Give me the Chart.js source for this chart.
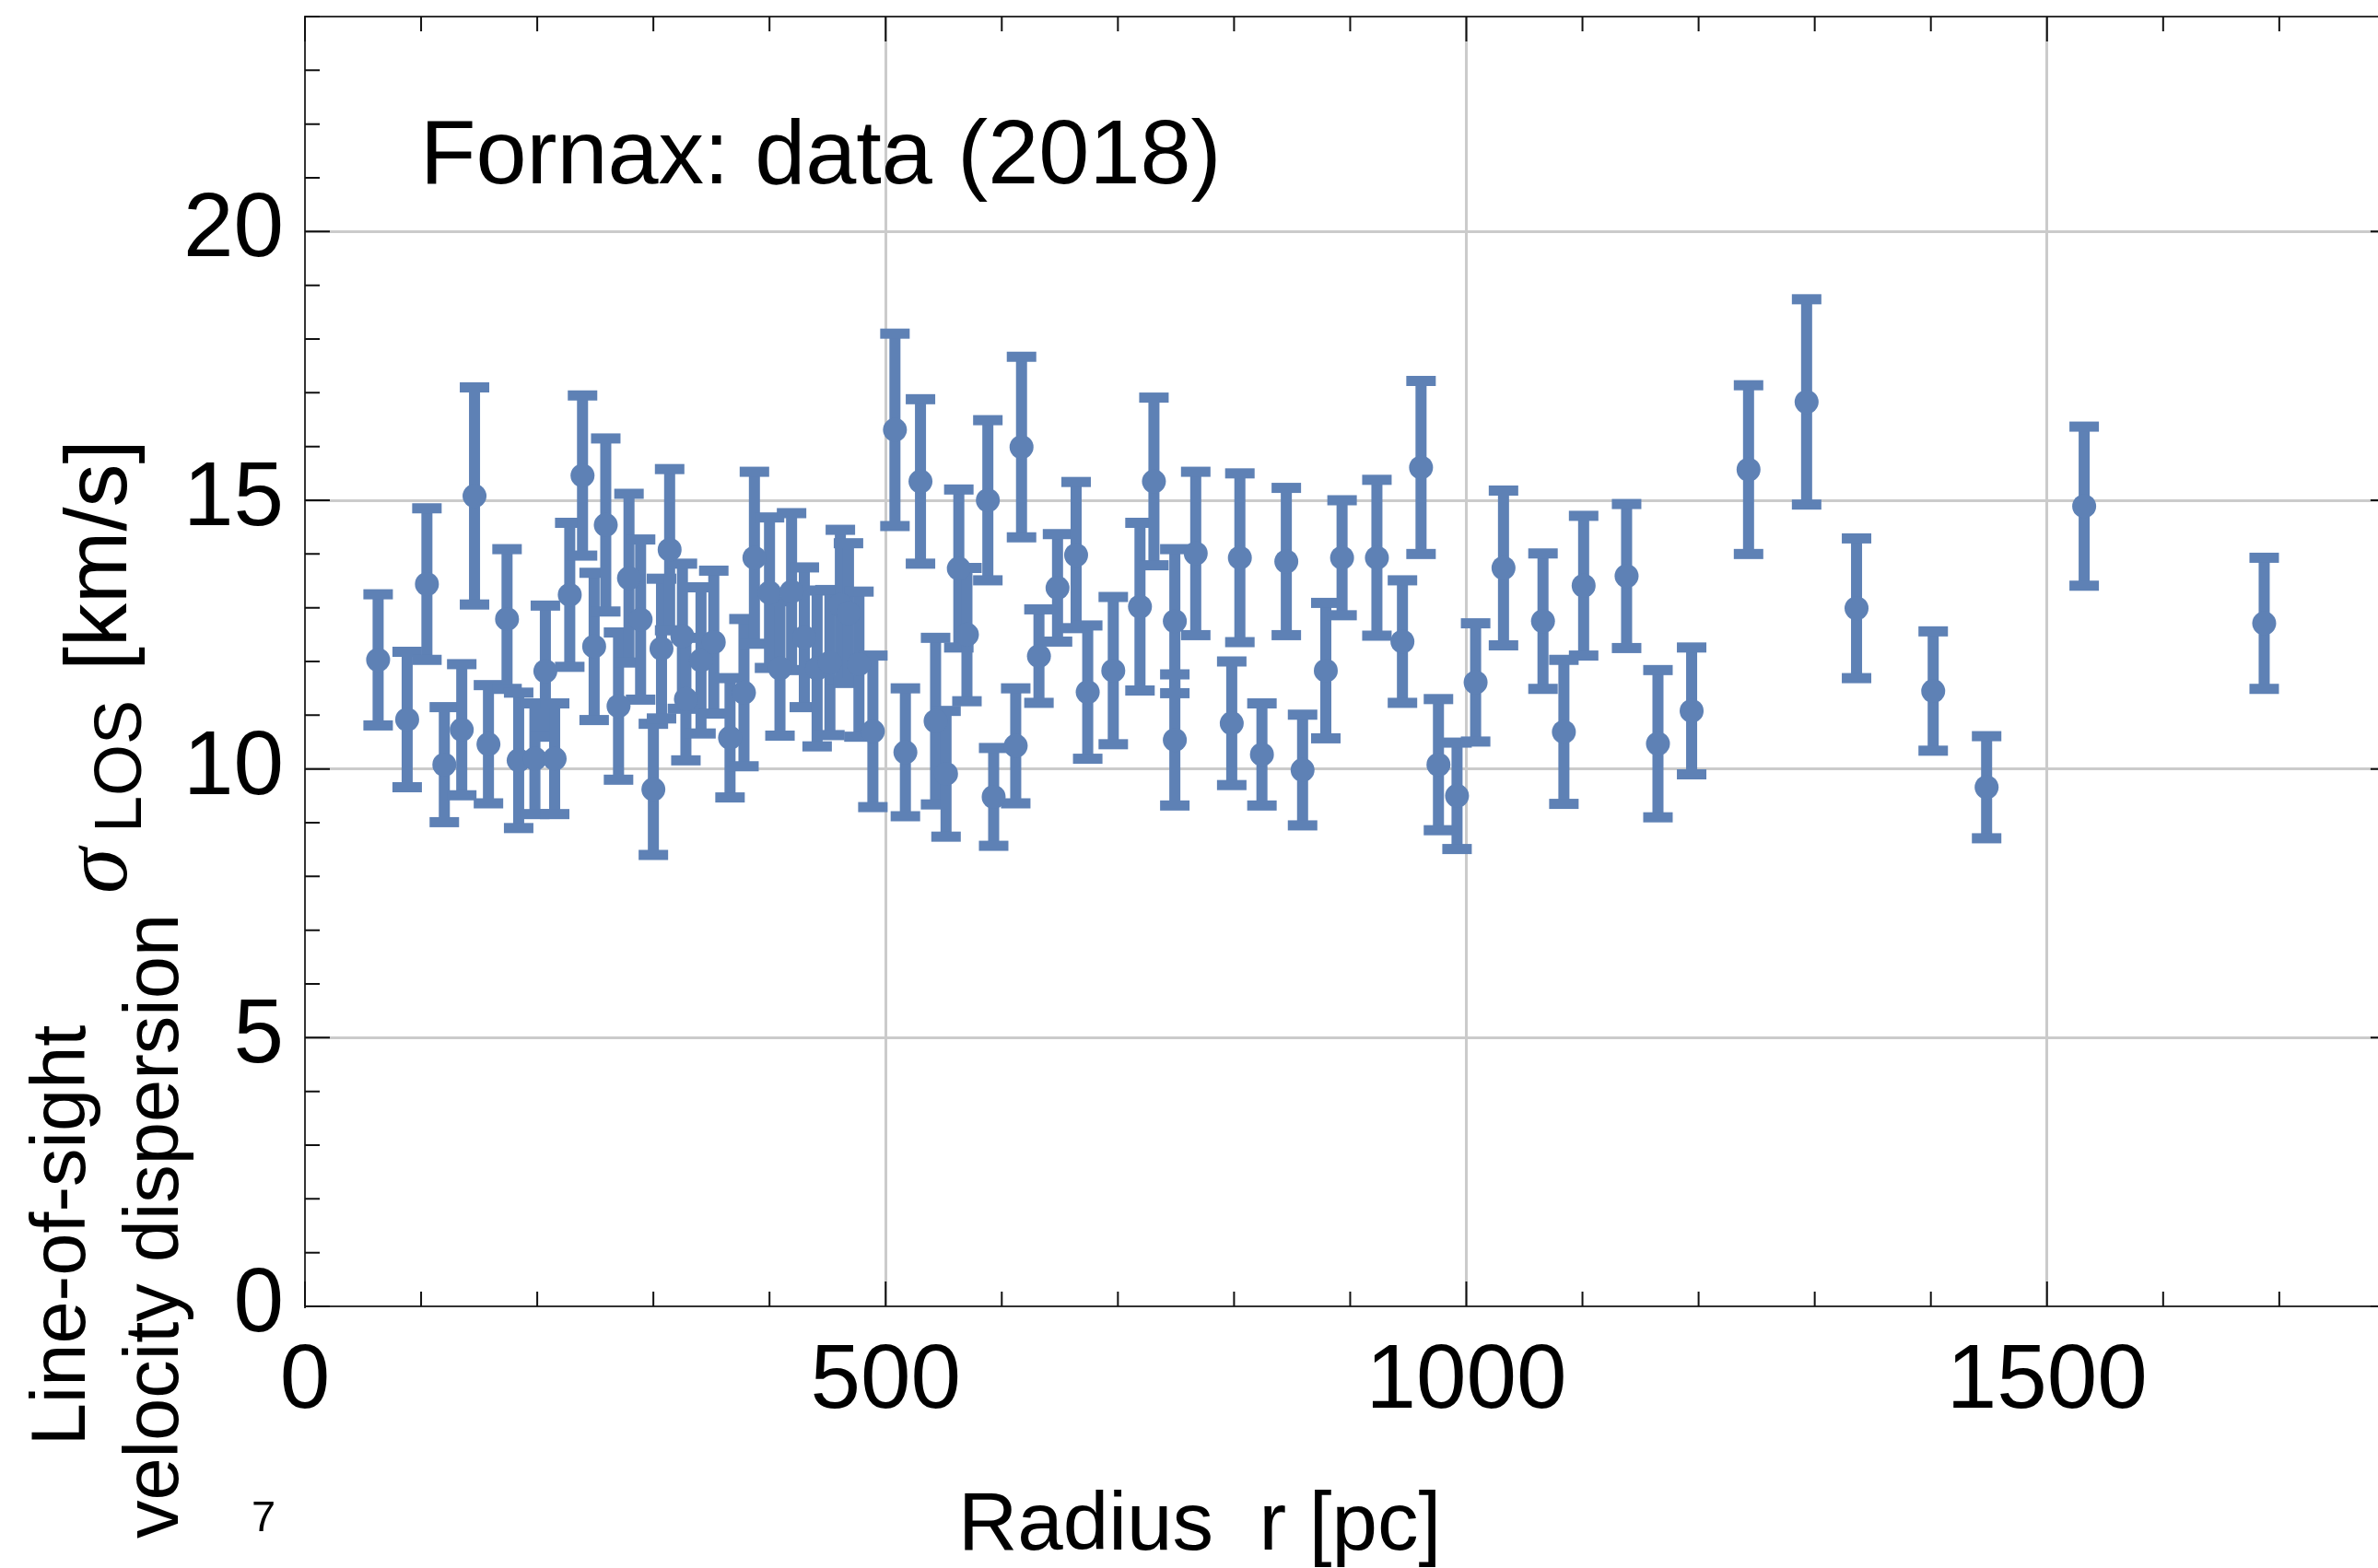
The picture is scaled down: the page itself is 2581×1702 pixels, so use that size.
<!DOCTYPE html>
<html>
<head>
<meta charset="utf-8">
<script src="https://cdn.jsdelivr.net/npm/chart.js@4.4.1/dist/chart.umd.min.js"></script>
<style>
  html, body { margin: 0; padding: 0; background: #fff; overflow: hidden; }
</style>
</head>
<body>
<canvas id="chart_sigma" width="2581" height="1702"></canvas>
<script>
// Fornax line-of-sight velocity dispersion vs. radius
var radius = [63, 88, 105, 120, 135, 146, 158, 174, 184, 198,
              207, 215, 228, 239, 249, 259, 270, 279, 289, 300,
              307, 314, 325, 328, 341, 352, 366, 378, 387, 400,
              409, 419, 430, 441, 452, 461, 468, 477, 489, 508,
              517, 530, 543, 552, 563, 570, 588, 593, 612, 617,
              632, 648, 664, 674, 696, 719, 731, 749, 749, 767,
              798, 805, 824, 845, 859, 879, 893, 923, 945, 961,
              976, 992, 1008, 1032, 1066, 1084, 1101, 1138, 1165, 1194,
              1243, 1293, 1336, 1402, 1448, 1532, 1687]
var sigma = [12.03, 10.92, 13.44, 10.08, 10.73, 15.08, 10.46, 12.79, 10.16, 10.19,
             11.82, 10.19, 13.24, 15.46, 12.28, 14.54, 11.17, 13.55, 12.78, 9.62,
             12.24, 14.08, 12.47, 11.30, 12.02, 12.36, 10.58, 11.42, 13.93, 13.28,
             11.87, 13.30, 12.45, 11.87, 11.98, 13.05, 12.90, 11.95, 10.70, 16.31,
             10.31, 15.35, 10.89, 9.91, 13.73, 12.50, 15.00, 9.48, 10.43, 15.99,
             12.10, 13.37, 13.98, 11.43, 11.83, 13.02, 15.35, 12.75, 10.54, 14.01,
             10.85, 13.93, 10.27, 13.86, 9.98, 11.83, 13.93, 13.93, 12.37, 15.61,
             10.08, 9.50, 11.61, 13.74, 12.75, 10.69, 13.41, 13.59, 10.47, 11.08,
             15.57, 16.83, 12.99, 11.45, 9.66, 14.89, 12.71]
var sigmaErr = [1.22, 1.26, 1.41, 1.07, 1.22, 2.02, 1.10, 1.30, 1.26, 1.03,
                1.22, 1.03, 1.34, 1.49, 1.37, 1.61, 1.37, 1.57, 1.49, 1.22,
                1.30, 1.50, 1.35, 1.14, 1.36, 1.33, 1.11, 1.37, 1.60, 1.40,
                1.25, 1.46, 1.30, 1.45, 1.35, 1.40, 1.30, 1.35, 1.41, 1.79,
                1.19, 1.53, 1.55, 1.17, 1.47, 1.24, 1.49, 0.91, 1.07, 1.68,
                0.87, 1.00, 1.36, 1.24, 1.37, 1.56, 1.56, 1.34, 1.22, 1.52,
                1.15, 1.57, 0.95, 1.37, 1.03, 1.26, 1.07, 1.45, 1.14, 1.61,
                1.22, 0.99, 1.10, 1.44, 1.26, 1.34, 1.30, 1.34, 1.37, 1.18,
                1.57, 1.91, 1.30, 1.11, 0.95, 1.48, 1.22]

var xTickValues = [0, 500, 1000, 1500]
var yTickValues = [0, 5, 10, 15, 20]
var xMinorStep = 100
var yMinorStep = 1
var xVisibleMax = 1785   // right edge of the canvas
var xFrameMax = 1800     // right side of the frame, just past the edge

var blue = 'rgb(94, 129, 181)'
var font = '"Liberation Sans", Arial, sans-serif'

// vertical bars with flat caps, one per point
var errorBars = {
    id: 'errorBars',
    beforeDatasetsDraw: function (chart) {
        var ctx = chart.ctx, xs = chart.scales.x, ys = chart.scales.y
        ctx.save()
        ctx.fillStyle = blue
        for (var i = 0; i < radius.length; i++) {
            var px = xs.getPixelForValue(radius[i])
            var top = ys.getPixelForValue(sigma[i] + sigmaErr[i])
            var bot = ys.getPixelForValue(sigma[i] - sigmaErr[i])
            ctx.fillRect(px - 6, top, 12, bot - top)
            ctx.fillRect(px - 16, top - 5.5, 32, 11)
            ctx.fillRect(px - 16, bot - 5.5, 32, 11)
        }
        ctx.restore()
    }
}

// frame with inward ticks on all four sides, plus the free-standing labels
var frame = {
    id: 'frame',
    afterDraw: function (chart) {
        var ctx = chart.ctx, a = chart.chartArea, xs = chart.scales.x, ys = chart.scales.y
        var right = xs.getPixelForValue(xFrameMax)
        ctx.save()
        ctx.strokeStyle = '#333'
        ctx.lineWidth = 2
        ctx.beginPath()
        ctx.moveTo(a.left, a.top)
        ctx.lineTo(right, a.top)
        ctx.lineTo(right, a.bottom)
        ctx.stroke()

        ctx.strokeStyle = '#111'
        ctx.beginPath()
        for (var v = 0; v <= xFrameMax; v += xMinorStep) {
            var px = xs.getPixelForValue(v)
            var len = v % 500 === 0 ? 27 : 16
            ctx.moveTo(px, a.bottom); ctx.lineTo(px, a.bottom - len)
            ctx.moveTo(px, a.top); ctx.lineTo(px, a.top + len)
        }
        for (var w = 0; w <= ys.max; w += yMinorStep) {
            var py = ys.getPixelForValue(w)
            var l2 = w % 5 === 0 ? 27 : 16
            ctx.moveTo(a.left, py); ctx.lineTo(a.left + l2, py)
            ctx.moveTo(right, py); ctx.lineTo(right - l2, py)
        }
        ctx.stroke()

        ctx.fillStyle = '#000'
        ctx.textBaseline = 'alphabetic'
        ctx.textAlign = 'left'
        ctx.font = '99px ' + font
        ctx.fillText('Fornax: data (2018)', 456, 199)

        ctx.font = '89px ' + font
        ctx.fillText('Radius  r [pc]', 1040, 1682)

        ctx.font = '47px ' + font
        ctx.fillText('7', 273, 1662)

        // rotated y title, three pieces
        ctx.textAlign = 'center'
        ctx.font = '83px ' + font
        ctx.save()
        ctx.translate(92, 1341); ctx.rotate(-Math.PI / 2)
        ctx.fillText('Line-of-sight', 0, 0)
        ctx.restore()
        ctx.save()
        ctx.translate(193, 1331); ctx.rotate(-Math.PI / 2)
        ctx.fillText('velocity dispersion', 0, 0)
        ctx.restore()

        ctx.save()
        ctx.translate(137, 970); ctx.rotate(-Math.PI / 2)
        ctx.textAlign = 'left'
        ctx.font = 'italic 100px "Liberation Serif", serif'
        ctx.fillText('σ', 0, 0)
        ctx.font = '72px ' + font
        ctx.fillText('LOS', 66, 16)
        ctx.font = '94px ' + font
        ctx.fillText('[km/s]', 242, 0)
        ctx.restore()

        ctx.restore()
    }
}

var ctx = document.getElementById('chart_sigma')

var chart_sigma = new Chart(ctx, {
    type: 'scatter',
    data: {
        datasets: [{
            data: radius.map(function (r, i) { return { x: r, y: sigma[i] } }),
            backgroundColor: blue,
            borderWidth: 0,
            pointRadius: 13,
            pointHoverRadius: 13
        }]
    },
    options: {
        responsive: false,
        animation: false,
        devicePixelRatio: 1,
        events: [],
        layout: { autoPadding: false, padding: { left: 0, top: 18, right: 0, bottom: 0 } },
        plugins: { legend: { display: false }, tooltip: { enabled: false } },
        scales: {
            x: {
                type: 'linear',
                min: 0,
                max: xVisibleMax,
                afterFit: function (s) {
                    s.height = 284
                    s.paddingLeft = 0
                    s.paddingRight = 0
                },
                afterBuildTicks: function (s) { s.ticks = xTickValues.map(function (v) { return { value: v } }) },
                grid: {
                    color: function (c) { return c.tick && c.tick.value === 0 ? 'rgba(0,0,0,0)' : '#cbcbcb' },
                    lineWidth: 3,
                    drawTicks: false
                },
                border: { color: '#333', width: 2 },
                ticks: {
                    color: '#000',
                    font: { family: font, size: 98 },
                    padding: 24,
                    maxRotation: 0,
                    autoSkip: false,
                    callback: function (v) { return String(v) }
                }
            },
            y: {
                type: 'linear',
                min: 0,
                max: 24,
                afterFit: function (s) {
                    s.width = 331
                    s.paddingTop = 0
                    s.paddingBottom = 0
                },
                afterBuildTicks: function (s) { s.ticks = yTickValues.map(function (v) { return { value: v } }) },
                grid: {
                    color: function (c) { return c.tick && c.tick.value === 0 ? 'rgba(0,0,0,0)' : '#cbcbcb' },
                    lineWidth: 3,
                    drawTicks: false
                },
                border: { color: '#333', width: 2 },
                ticks: {
                    color: '#000',
                    font: { family: font, size: 98 },
                    padding: 23,
                    autoSkip: false,
                    callback: function (v) { return String(v) }
                }
            }
        }
    },
    plugins: [errorBars, frame]
})
</script>
</body>
</html>
